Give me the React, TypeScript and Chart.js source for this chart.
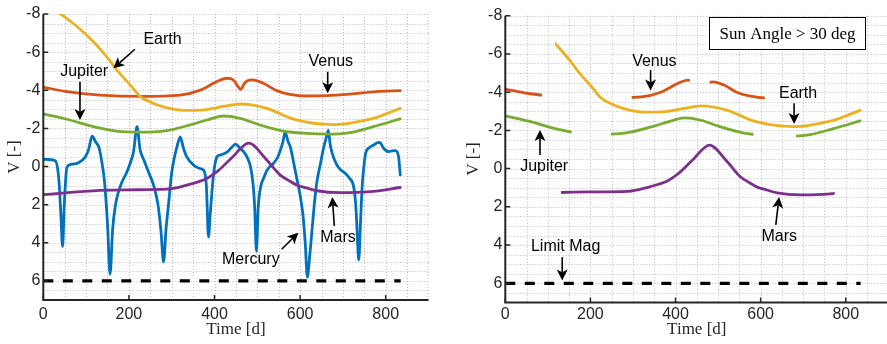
import React, { useEffect, useRef } from 'react';
import { Chart, registerables } from 'chart.js';

Chart.register(...registerables);

// ---------- tick labels ----------
const xTickValues = [0, 200, 400, 600, 800];
const yTickValues = [-8, -6, -4, -2, 0, 2, 4, 6];

// ---------- series (Time [d], V [-]) ----------
const mercuryT = [0, 12, 28, 36, 41, 45, 49, 55, 65, 82, 98, 106, 114, 122, 130, 137, 143, 150, 156, 162, 168, 176, 184, 195, 203, 211, 219, 226, 235, 246, 258, 268, 275, 281, 287, 293, 299, 305, 313, 320, 327, 335, 351, 365, 375, 381, 386, 390, 398, 406, 413, 429, 440, 449, 460, 468, 476, 484, 490, 494, 498, 502, 508, 515, 523, 538, 548, 554, 560, 565, 572, 577, 585, 593, 600, 607, 612, 617, 622, 628, 634, 640, 648, 655, 661, 666, 670, 675, 686, 696, 706, 715, 725, 730, 733, 737, 741, 745, 749, 753, 762, 772, 780, 786, 795, 807, 815, 823, 830, 834];
const mercuryV = [-0.38, -0.37, -0.3, 0.6, 2.5, 4.2, 2.0, 0.05, -0.12, -0.2, -0.5, -0.9, -1.6, -1.3, -1.0, -0.2, 0.8, 3.0, 5.65, 3.3, 2.1, 1.3, 0.8, 0.3, -0.17, -0.8, -2.09, -0.9, -0.34, 0.3, 1.0, 2.0, 3.4, 5.0, 3.2, 1.9, 0.5, -0.34, -1.1, -1.55, -1.0, -0.52, -0.08, 0.1, 0.2, 1.0, 3.7, 2.5, 0.36, -0.52, -0.6, -0.75, -1.0, -1.18, -0.95, -0.78, -0.5, 0, 0.9, 2.2, 4.45, 2.2, 1.05, 0.6, 0.18, -0.17, -0.5, -0.87, -1.3, -1.8, -1.3, -1.04, -0.2, 0.7, 1.5, 2.6, 4.0, 5.8, 4.8, 3.3, 1.8, 0.7, -0.2, -1.0, -1.5, -1.9, -1.2, -0.69, -0.08, 0.2, 0.36, 0.6, 1.05, 2.0, 3.3, 4.9, 3.0, 1.05, 0.0, -0.69, -1.0, -1.13, -1.25, -1.27, -0.96, -0.78, -0.82, -0.83, -0.52, 0.44];

const venusT = [0, 55, 133, 226, 320, 367, 405, 429, 444, 456, 461, 471, 488, 514, 545, 576, 615, 661, 716, 779, 834];
const venusV = [-4.16, -3.93, -3.75, -3.68, -3.75, -4.01, -4.45, -4.63, -4.54, -4.16, -4.05, -4.4, -4.54, -4.37, -3.98, -3.79, -3.7, -3.72, -3.8, -3.93, -3.98];

const earthT = [36, 70, 109, 148, 172, 203, 226, 250, 273, 300, 328, 355, 382, 420, 460, 490, 522, 550, 576, 605, 631, 655, 678, 700, 724, 750, 779, 805, 834];
const earthV = [-8.07, -7.5, -6.73, -5.76, -5.06, -4.28, -3.68, -3.38, -3.18, -3.02, -2.95, -2.95, -2.99, -3.15, -3.28, -3.22, -3.05, -2.8, -2.55, -2.38, -2.27, -2.22, -2.2, -2.22, -2.3, -2.42, -2.58, -2.8, -3.05];

const jupiterT = [0, 55, 117, 171, 226, 288, 343, 382, 421, 460, 506, 561, 615, 663, 716, 771, 834];
const jupiterV = [-2.76, -2.48, -2.09, -1.86, -1.8, -1.88, -2.18, -2.44, -2.65, -2.53, -2.18, -1.86, -1.74, -1.7, -1.78, -2.09, -2.5];

const marsT = [0, 132, 200, 289, 335, 360, 382, 406, 440, 480, 520, 553, 575, 592, 615, 639, 693, 763, 834];
const marsV = [1.47, 1.25, 1.22, 1.19, 0.98, 0.82, 0.63, 0.27, -0.45, -1.23, -0.4, 0.44, 0.75, 0.97, 1.12, 1.27, 1.37, 1.32, 1.1];

const limitT = [0, 835];
const limitV = [6, 6];

// visible time windows for the "Sun Angle > 30 deg" panel
const venusVisible = [[0, 86], [297, 434], [480, 610]];
const earthVisible = [[117, 840]];
const jupiterVisible = [[0, 156], [248, 583], [683, 840]];
const marsVisible = [[131, 774]];
const limitVisible = [[0, 840]];

const COLORS: Record<string, string> = {
  Mercury: '#0072BD',
  Venus: '#D95319',
  Earth: '#EDB120',
  Mars: '#7E2F8E',
  Jupiter: '#77AC30',
};

type Note = { text: string; tx: number; ty: number; from: [number, number]; to: [number, number] };

const leftNotes: Note[] = [
  { text: 'Earth', tx: 278.5, ty: -6.66, from: [214, -6.15], to: [163.6, -5.15] },
  { text: 'Jupiter', tx: 95.5, ty: -5.0, from: [85.7, -4.45], to: [85.7, -2.44] },
  { text: 'Venus', tx: 671.7, ty: -5.5, from: [664.5, -4.97], to: [664.5, -3.84] },
  { text: 'Mercury', tx: 484.8, ty: 4.9, from: [557, 4.34], to: [595.8, 3.47] },
  { text: 'Mars', tx: 688.6, ty: 3.74, from: [680, 3.12], to: [675.2, 1.6] },
];

const rightNotes: Note[] = [
  { text: 'Venus', tx: 350.3, ty: -5.59, from: [341.4, -5.16], to: [341.4, -4.08] },
  { text: 'Earth', tx: 688, ty: -3.92, from: [678.6, -3.42], to: [678.6, -2.33] },
  { text: 'Jupiter', tx: 91.3, ty: -0.1, from: [81.5, -0.71], to: [81.5, -2.02] },
  { text: 'Mars', tx: 643.8, ty: 3.54, from: [635.6, 2.94], to: [643.4, 1.49] },
  { text: 'Limit Mag', tx: 141.8, ty: 4.1, from: [133.8, 4.63], to: [133.8, 5.85] },
];

const SANS = "'Liberation Sans', Arial, Helvetica, sans-serif";
const SERIF = "'Liberation Serif', 'Times New Roman', serif";
const AXIS_COLOR = '#262626';
const GRID_COLOR = '#bcbcbc';

type Panel = {
  mercury: boolean;
  padding: { left: number; top: number; right: number; bottom: number };
  yWidth: number;
  xHeight: number;
  xTickPad: number;
  yTickPad: number;
  notes: Note[];
  visible: Record<string, number[][]> | null;
  box: { x0: number; x1: number; y0: number; y1: number; text: string } | null;
};

const leftPanel: Panel = {
  mercury: true,
  padding: { left: 0, top: 14, right: 14.5, bottom: 0 },
  yWidth: 43.3,
  xHeight: 44,
  xTickPad: 5,
  yTickPad: 3,
  notes: leftNotes,
  visible: null,
  box: null,
};

const rightPanel: Panel = {
  mercury: false,
  padding: { left: 16, top: 15.7, right: 0.7, bottom: 0 },
  yWidth: 46.3,
  xHeight: 41.6,
  xTickPad: 3,
  yTickPad: 3,
  notes: rightNotes,
  visible: {
    Venus: venusVisible,
    Earth: earthVisible,
    Jupiter: jupiterVisible,
    Mars: marsVisible,
    'Limit Mag': limitVisible,
  },
  box: { x0: 478.3, x1: 846.2, y0: -7.92, y1: -6.24, text: 'Sun Angle > 30 deg' },
};

function pts(ts: number[], vs: number[]) {
  return ts.map((t, i) => ({ x: t, y: vs[i] }));
}

function series(label: string, ts: number[], vs: number[]) {
  return {
    label,
    data: pts(ts, vs),
    borderColor: COLORS[label],
    backgroundColor: COLORS[label],
    borderWidth: 2.8,
    borderCapStyle: 'round',
    borderJoinStyle: 'round',
    pointRadius: 0,
    fill: false,
    cubicInterpolationMode: 'monotone',
  };
}

function makeDatasets(includeMercury: boolean) {
  // first dataset is drawn on top in Chart.js
  const list: any[] = [
    {
      label: 'Limit Mag',
      data: pts(limitT, limitV),
      borderColor: '#000',
      borderWidth: 3.2,
      borderDash: [10, 9.5],
      borderCapStyle: 'butt',
      pointRadius: 0,
      fill: false,
    },
    series('Jupiter', jupiterT, jupiterV),
    series('Mars', marsT, marsV),
    series('Earth', earthT, earthV),
    series('Venus', venusT, venusV),
  ];
  if (includeMercury) list.push(series('Mercury', mercuryT, mercuryV));
  return list;
}

function drawArrow(ctx: CanvasRenderingContext2D, x1: number, y1: number, x2: number, y2: number) {
  const ang = Math.atan2(y2 - y1, x2 - x1);
  const hl = 11;
  const hw = 5.5;
  const c = Math.cos(ang);
  const s = Math.sin(ang);
  const bx = x2 - hl * c;
  const by = y2 - hl * s;
  const nx = x2 - hl * 0.75 * c;
  const ny = y2 - hl * 0.75 * s;
  ctx.beginPath();
  ctx.moveTo(x1, y1);
  ctx.lineTo(nx, ny);
  ctx.lineWidth = 1.6;
  ctx.stroke();
  ctx.beginPath();
  ctx.moveTo(x2, y2);
  ctx.lineTo(bx - hw * s, by + hw * c);
  ctx.lineTo(nx, ny);
  ctx.lineTo(bx + hw * s, by - hw * c);
  ctx.closePath();
  ctx.fill();
}

function makePlugin(cfg: Panel) {
  const rangesFor = (chart: any, index: number) => {
    if (!cfg.visible) return null;
    const ds = chart.data.datasets[index];
    return cfg.visible[ds.label] || null;
  };
  return {
    id: 'matlabPanel',
    beforeDatasetsDraw(chart: any) {
      const { ctx, chartArea: a } = chart;
      const xs = chart.scales.x;
      const ys = chart.scales.y;
      ctx.save();
      ctx.strokeStyle = GRID_COLOR;
      ctx.lineWidth = 1;
      ctx.setLineDash([1, 2]);
      ctx.beginPath();
      for (let v = 0; v <= 900; v += 50) {
        const p = Math.min(Math.round(xs.getPixelForValue(v)) + 0.5, a.right - 0.5);
        ctx.moveTo(p, a.top);
        ctx.lineTo(p, a.bottom);
      }
      for (let v = -8; v <= 7; v += 0.5) {
        const p = Math.round(ys.getPixelForValue(v)) + 0.5;
        ctx.moveTo(a.left, p);
        ctx.lineTo(a.right, p);
      }
      ctx.stroke();
      ctx.restore();
    },
    beforeDatasetDraw(chart: any, args: any) {
      const ranges = rangesFor(chart, args.index);
      if (!ranges) return;
      const { ctx } = chart;
      const xs = chart.scales.x;
      ctx.save();
      ctx.beginPath();
      for (const r of ranges) {
        const p1 = xs.getPixelForValue(r[0]);
        const p2 = xs.getPixelForValue(r[1]);
        ctx.rect(p1, 0, p2 - p1, chart.height);
      }
      ctx.clip();
    },
    afterDatasetDraw(chart: any, args: any) {
      const ranges = rangesFor(chart, args.index);
      if (!ranges) return;
      chart.ctx.restore();
    },
    afterDatasetsDraw(chart: any) {
      const { ctx, chartArea: a } = chart;
      const xs = chart.scales.x;
      const ys = chart.scales.y;
      ctx.save();
      // axes
      ctx.strokeStyle = AXIS_COLOR;
      ctx.lineWidth = 2;
      ctx.setLineDash([]);
      ctx.beginPath();
      ctx.moveTo(a.left, a.top);
      ctx.lineTo(a.left, a.bottom);
      ctx.lineTo(a.right, a.bottom);
      ctx.stroke();
      ctx.lineWidth = 1.5;
      ctx.beginPath();
      for (const v of xTickValues) {
        const p = xs.getPixelForValue(v);
        ctx.moveTo(p, a.bottom);
        ctx.lineTo(p, a.bottom - 5);
      }
      for (const v of yTickValues) {
        const p = ys.getPixelForValue(v);
        ctx.moveTo(a.left, p);
        ctx.lineTo(a.left + 5, p);
      }
      ctx.stroke();

      // annotations
      ctx.fillStyle = '#000';
      ctx.strokeStyle = '#000';
      ctx.font = `16px ${SANS}`;
      ctx.textAlign = 'center';
      ctx.textBaseline = 'middle';
      for (const n of cfg.notes) {
        ctx.fillText(n.text, xs.getPixelForValue(n.tx), ys.getPixelForValue(n.ty));
        drawArrow(
          ctx,
          xs.getPixelForValue(n.from[0]),
          ys.getPixelForValue(n.from[1]),
          xs.getPixelForValue(n.to[0]),
          ys.getPixelForValue(n.to[1])
        );
      }

      // text box
      if (cfg.box) {
        const b = cfg.box;
        const x0 = Math.round(xs.getPixelForValue(b.x0)) + 0.5;
        const x1 = Math.round(xs.getPixelForValue(b.x1)) + 0.5;
        const y0 = Math.round(ys.getPixelForValue(b.y0)) + 0.5;
        const y1 = Math.round(ys.getPixelForValue(b.y1)) + 0.5;
        ctx.fillStyle = '#fff';
        ctx.fillRect(x0, y0, x1 - x0, y1 - y0);
        ctx.lineWidth = 1;
        ctx.strokeStyle = '#000';
        ctx.strokeRect(x0, y0, x1 - x0, y1 - y0);
        ctx.fillStyle = '#000';
        ctx.font = `17px ${SERIF}`;
        ctx.fillText(b.text, (x0 + x1) / 2, (y0 + y1) / 2 + 1);
      }
      ctx.restore();
    },
  };
}

function makeConfig(cfg: Panel): any {
  const tickFont = { family: SANS, size: 16 };
  const titleFont = { family: SERIF, size: 17 };
  return {
    type: 'line',
    data: { datasets: makeDatasets(cfg.mercury) },
    options: {
      responsive: false,
      maintainAspectRatio: false,
      animation: false,
      devicePixelRatio: 1,
      events: [],
      layout: { padding: cfg.padding },
      plugins: { legend: { display: false }, tooltip: { enabled: false } },
      scales: {
        x: {
          type: 'linear',
          position: 'bottom',
          min: 0,
          max: 900,
          grid: { display: false, drawTicks: false },
          border: { display: false },
          ticks: {
            font: tickFont,
            color: AXIS_COLOR,
            padding: cfg.xTickPad,
            maxRotation: 0,
            autoSkip: false,
          },
          afterBuildTicks: (s: any) => {
            s.ticks = xTickValues.map((v) => ({ value: v }));
          },
          afterFit: (s: any) => {
            s.height = cfg.xHeight;
          },
          title: {
            display: true,
            text: 'Time [d]',
            font: titleFont,
            color: AXIS_COLOR,
            padding: { top: 0, bottom: 4 },
          },
        },
        y: {
          type: 'linear',
          position: 'left',
          reverse: true,
          min: -8,
          max: 7,
          grid: { display: false, drawTicks: false },
          border: { display: false },
          ticks: {
            font: tickFont,
            color: AXIS_COLOR,
            padding: cfg.yTickPad,
            autoSkip: false,
          },
          afterBuildTicks: (s: any) => {
            s.ticks = yTickValues.map((v) => ({ value: v }));
          },
          afterFit: (s: any) => {
            s.width = cfg.yWidth;
          },
          title: {
            display: true,
            text: 'V [-]',
            font: titleFont,
            color: AXIS_COLOR,
            padding: { top: 4.4, bottom: 0 },
          },
        },
      },
    },
    plugins: [makePlugin(cfg)],
  };
}

export default function App() {
  const leftRef = useRef<HTMLCanvasElement>(null);
  const rightRef = useRef<HTMLCanvasElement>(null);

  useEffect(() => {
    const c1 = new Chart(leftRef.current as HTMLCanvasElement, makeConfig(leftPanel));
    const c2 = new Chart(rightRef.current as HTMLCanvasElement, makeConfig(rightPanel));
    return () => {
      c1.destroy();
      c2.destroy();
    };
  }, []);

  return (
    <div
      style={{
        position: 'fixed',
        left: 0,
        top: 0,
        width: 887,
        height: 344,
        overflow: 'hidden',
        background: '#fff',
      }}
    >
      <canvas
        ref={leftRef}
        width={443}
        height={344}
        style={{ position: 'absolute', left: 0, top: 0, width: 443, height: 344 }}
      />
      <canvas
        ref={rightRef}
        width={446}
        height={344}
        style={{ position: 'absolute', left: 443, top: 0, width: 446, height: 344 }}
      />
    </div>
  );
}
